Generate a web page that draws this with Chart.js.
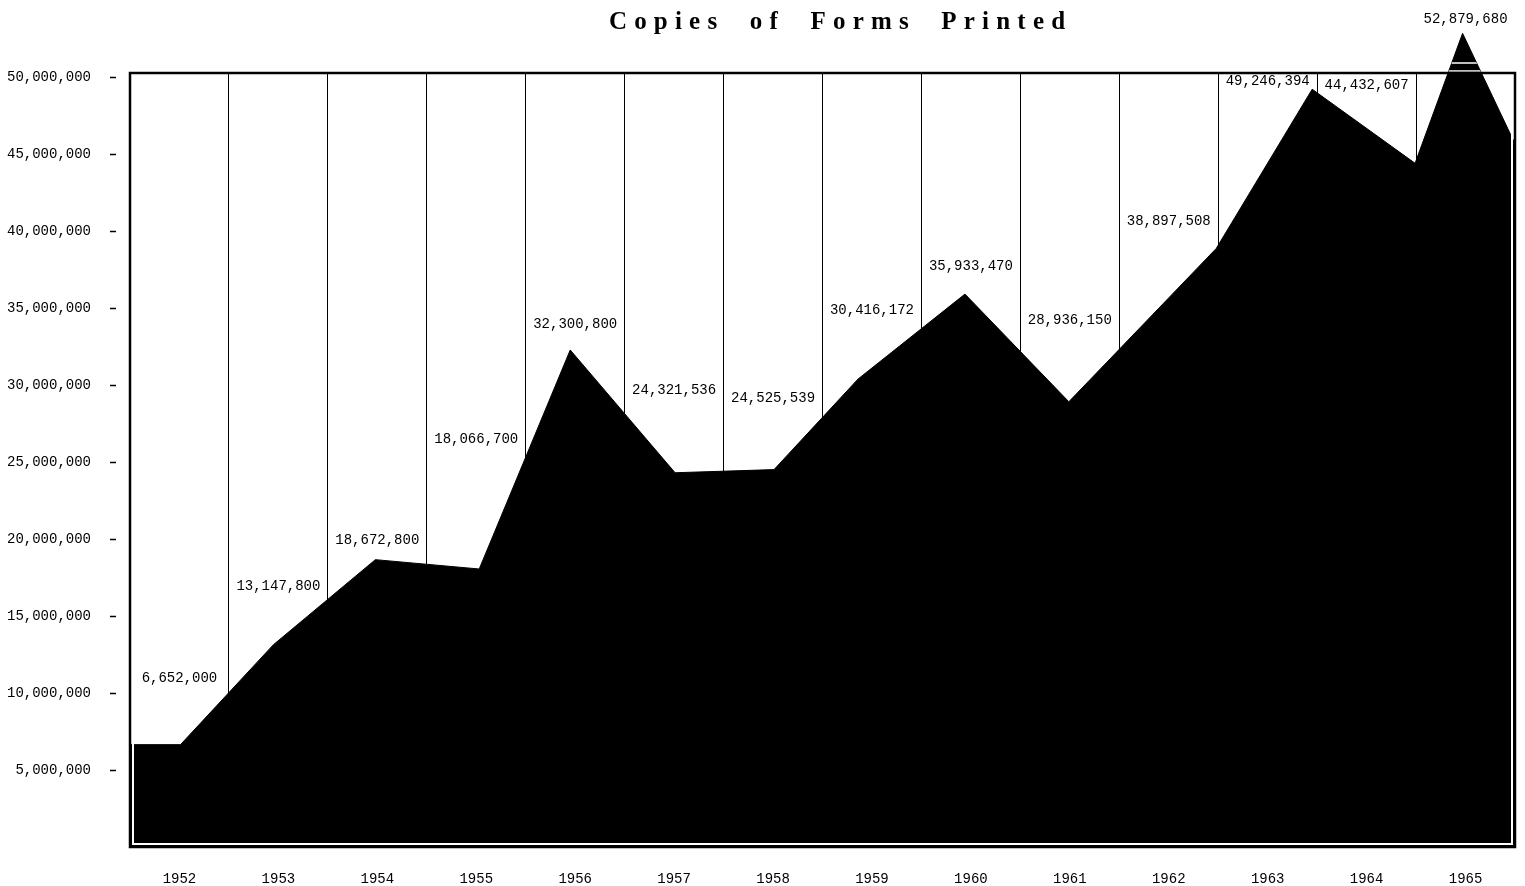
<!DOCTYPE html>
<html>
<head>
<meta charset="utf-8">
<title>Copies of Forms Printed</title>
<script src="https://cdn.jsdelivr.net/npm/chart.js@4.4.1/dist/chart.umd.min.js"></script>
<style>
  html, body { margin: 0; padding: 0; background: #fff; }
  #wrap { width: 1525px; height: 886px; }
</style>
</head>
<body>
<div id="wrap"><canvas id="chart"></canvas></div>
<script>
// one column per year
var years = ['1952', '1953', '1954', '1955', '1956', '1957', '1958',
             '1959', '1960', '1961', '1962', '1963', '1964', '1965'];

// copies printed, as typed above each column
var copies = [6652000, 13147800, 18672800, 18066700, 32300800, 24321536, 24525539,
              30416172, 35933470, 28936150, 38897508, 49246394, 44432607, 52879680];

// where the hand drawn outline bends, in column units (0 = left edge of 1952)
var bendX = [0, 0.51, 1.45, 2.48, 3.53, 4.45, 5.51, 6.51, 7.36, 8.44, 9.49, 10.98, 11.95, 12.99, 13.47, 14];
// outline meets the right edge about here
var rightEdge = 45700000;
var bendY = [copies[0]].concat(copies, [rightEdge]);

var yTicks = [5000000, 10000000, 15000000, 20000000, 25000000,
              30000000, 35000000, 40000000, 45000000, 50000000];

var typeFont = '"Liberation Mono", "Courier New", monospace';

// how far each typed figure sits above its own value, px
var labelRise = [66, 58, 19, 130, 26, 82, 71, 69, 28, 81, 27, 8, 78, 14];

var formsPlugin = {
    id: 'forms',
    afterDatasetsDraw: function(chart) {
        var ctx = chart.ctx;
        var a = chart.chartArea;
        var pts = chart.getDatasetMeta(0).data;

        // the 1965 peak goes over the top of the frame
        ctx.save();
        ctx.beginPath();
        ctx.rect(0, 0, chart.width, a.top);
        ctx.clip();
        ctx.beginPath();
        ctx.moveTo(pts[0].x, a.bottom);
        pts.forEach(function(p) { ctx.lineTo(p.x, p.y); });
        ctx.lineTo(pts[pts.length - 1].x, a.bottom);
        ctx.closePath();
        ctx.fillStyle = '#000';
        ctx.fill();
        ctx.clip();
        ctx.strokeStyle = '#fff';
        ctx.lineWidth = 1.5;
        [a.top - 10, a.top - 2].forEach(function(y) {
            ctx.beginPath();
            ctx.moveTo(a.left, y);
            ctx.lineTo(a.right, y);
            ctx.stroke();
        });
        ctx.restore();

        // thin white gap between the fill and the frame
        ctx.save();
        ctx.strokeStyle = '#fff';
        ctx.lineWidth = 2;
        ctx.beginPath();
        ctx.moveTo(a.left + 3, a.top + 2);
        ctx.lineTo(a.left + 3, a.bottom - 3);
        ctx.lineTo(a.right - 3, a.bottom - 3);
        ctx.lineTo(a.right - 3, a.top + 2);
        ctx.stroke();

        // frame
        ctx.strokeStyle = '#000';
        ctx.lineWidth = 2.5;
        ctx.strokeRect(a.left, a.top, a.right - a.left, a.bottom - a.top);

        // typed figures
        var xs = chart.scales.x;
        var ys = chart.scales.y;
        ctx.font = '14px ' + typeFont;
        ctx.fillStyle = '#000';
        ctx.textAlign = 'center';
        ctx.textBaseline = 'middle';
        copies.forEach(function(v, i) {
            ctx.fillText(v.toLocaleString('en-US'), xs.getPixelForValue(i),
                         ys.getPixelForValue(v) - labelRise[i]);
        });

        // title, letter spaced by hand
        var title = 'Copies of Forms Printed';
        ctx.font = 'bold 25px "Liberation Serif", "Times New Roman", serif';
        ctx.textAlign = 'left';
        ctx.textBaseline = 'alphabetic';
        var ls = 7.2, ws = 12;
        var total = 0;
        for (var i = 0; i < title.length; i++) {
            total += ctx.measureText(title[i]).width + (i < title.length - 1 ? ls : 0) + (title[i] === ' ' ? ws : 0);
        }
        var x = 837 - total / 2;
        for (var j = 0; j < title.length; j++) {
            ctx.fillText(title[j], x, 29);
            x += ctx.measureText(title[j]).width + ls + (title[j] === ' ' ? ws : 0);
        }
        ctx.restore();
    }
};

new Chart(document.getElementById('chart'), {
    type: 'line',
    data: {
        labels: years,
        datasets: [{
            data: bendX.map(function(x, i) { return {x: x, y: bendY[i]}; }),
            xAxisID: 'xp',
            fill: 'origin',
            backgroundColor: '#000',
            borderColor: '#000',
            borderWidth: 1,
            pointRadius: 0,
            tension: 0,
            clip: false
        }]
    },
    options: {
        responsive: true,
        maintainAspectRatio: false,
        animation: false,
        layout: { padding: { top: 73, right: 10, left: 0, bottom: 0 } },
        plugins: { legend: { display: false }, tooltip: { enabled: false } },
        scales: {
            x: {
                type: 'category',
                offset: true,
                grid: { offset: true, color: '#000', lineWidth: 1, drawTicks: false },
                border: { display: false },
                ticks: { autoSkip: false, maxRotation: 0, padding: 24, color: '#000',
                         font: { family: typeFont, size: 14 } },
                afterFit: function(s) { s.height = 39; }
            },
            xp: { type: 'linear', min: 0, max: 14, display: false },
            y: {
                min: 0,
                max: 50300000,
                afterBuildTicks: function(s) { s.ticks = yTicks.map(function(v) { return {value: v}; }); },
                grid: { drawOnChartArea: false, tickLength: 20, tickColor: '#000', tickWidth: 1.5,
                        tickBorderDash: [6, 14], tickBorderDashOffset: 0 },
                border: { display: false },
                ticks: { padding: 19, color: '#000', font: { family: typeFont, size: 14 },
                         callback: function(v) { return Number(v).toLocaleString('en-US'); } },
                afterFit: function(s) { s.width = 130; }
            }
        }
    },
    plugins: [formsPlugin]
});
</script>
</body>
</html>
